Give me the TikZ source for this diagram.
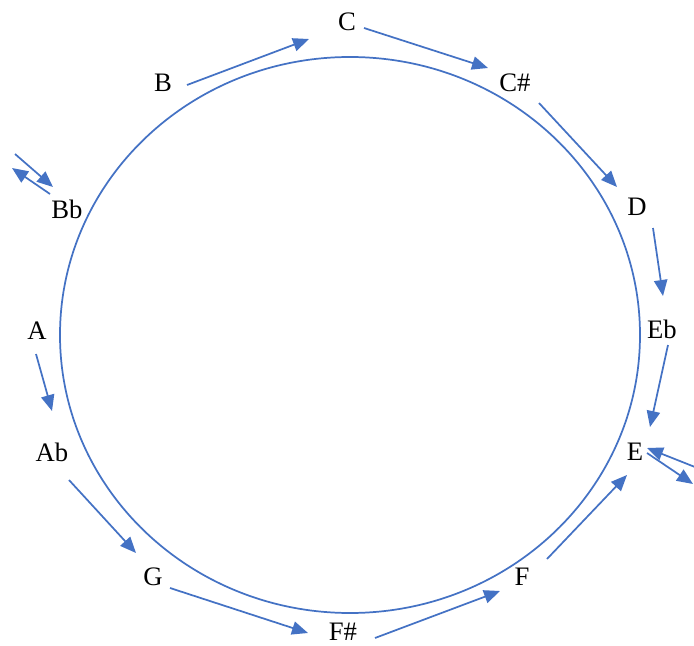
\documentclass[tikz,border=0pt]{standalone}
\usepackage{fontspec}
\setmainfont{Liberation Serif}
\usetikzlibrary{arrows.meta}

\definecolor{noteblue}{RGB}{68,114,196}
\tikzset{every picture/.style={line width=0.75pt}}
\tikzset{
  note/.style={inner sep=1pt, font=\fontsize{20}{22}\selectfont},
  steparrow/.style={draw=noteblue, line width=1.3pt, -{Triangle[length=12pt,width=10pt]}}
}

\begin{document}
\begin{tikzpicture}[x=0.75pt,y=0.75pt,yscale=-1,xscale=1]
\useasboundingbox (0,0) rectangle (694,646);

%Ellipse
\draw [color=noteblue, line width=1.3pt] (350,335) ellipse [x radius=290, y radius=278];

% Text Nodes
\node [note] (C)  at (347,22)  {C};
\node [note] (Cs) at (515,83)  {C\#};
\node [note] (D)  at (637,207) {D};
\node [note] (Eb) at (662,329) {Eb};
\node [note] (E)  at (635,452) {E};
\node [note] (F)  at (522,577) {F};
\node [note] (Fs) at (343,632) {F\#};
\node [note] (G)  at (153,577) {G};
\node [note] (Ab) at (52,452)  {Ab};
\node [note] (A)  at (37,331)  {A};
\node [note] (Bb) at (67,209)  {Bb};
\node [note] (B)  at (163,83)  {B};

% free ends at the page edge
\coordinate (eIn)  at (700,469);
\coordinate (eOut) at (693,484);
\coordinate (bIn)  at (15,154);
\coordinate (bOut) at (12,168);

%Arrows
\draw [steparrow] ([shift={(24,2)}]B.center) -- ([shift={(-38,17)}]C.center);
\draw [steparrow] ([shift={(17,6)}]C.center) -- ([shift={(-27,-15)}]Cs.center);
\draw [steparrow] ([shift={(24,20)}]Cs.center) -- ([shift={(-20,-20)}]D.center);
\draw [steparrow] ([shift={(16,21)}]D.center) -- ([shift={(1,-33)}]Eb.center);
\draw [steparrow] ([shift={(6,16)}]Eb.center) -- ([shift={(15,-25)}]E.center);
\draw [steparrow] (eIn) -- ([shift={(12,-4)}]E.center);
\draw [steparrow] ([shift={(12,1)}]E.center) -- (eOut);
\draw [steparrow] ([shift={(25,-18)}]F.center) -- ([shift={(-8,23)}]E.center);
\draw [steparrow] ([shift={(32,6)}]Fs.center) -- ([shift={(-22,14)}]F.center);
\draw [steparrow] ([shift={(17,11)}]G.center) -- ([shift={(-35,1)}]Fs.center);
\draw [steparrow] ([shift={(17,28)}]Ab.center) -- ([shift={(-17,-24)}]G.center);
\draw [steparrow] ([shift={(-1,23)}]A.center) -- ([shift={(0,-41)}]Ab.center);
\draw [steparrow] (bIn) -- ([shift={(-14,-22)}]Bb.center);
\draw [steparrow] ([shift={(-17,-15)}]Bb.center) -- (bOut);

\end{tikzpicture}
\end{document}
